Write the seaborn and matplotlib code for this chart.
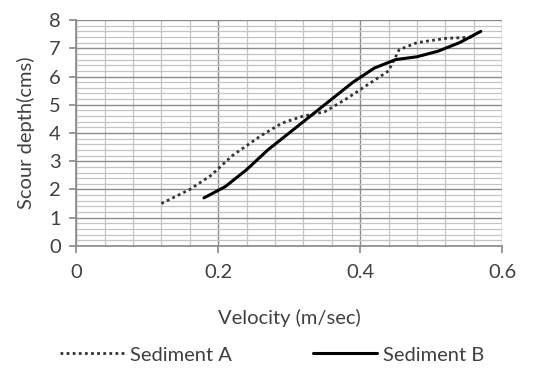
import matplotlib
matplotlib.use("Agg")
import matplotlib.pyplot as plt
import seaborn as sns
import pandas as pd
from matplotlib.ticker import MultipleLocator

sns.set_theme(style="white")
plt.rcParams['font.family'] = ['Lato', 'DejaVu Sans']

vel_a = [0.12, 0.16, 0.19, 0.22, 0.26, 0.29, 0.32, 0.35, 0.38, 0.41, 0.44, 0.455, 0.48, 0.52, 0.56]
depth_a = [1.5, 2.0, 2.5, 3.2, 3.9, 4.35, 4.6, 4.75, 5.2, 5.7, 6.2, 6.95, 7.2, 7.35, 7.4]
vel_b = [0.18, 0.21, 0.24, 0.27, 0.30, 0.33, 0.36, 0.39, 0.42, 0.45, 0.48, 0.51, 0.54, 0.57]
depth_b = [1.7, 2.1, 2.7, 3.4, 4.0, 4.6, 5.2, 5.8, 6.3, 6.6, 6.7, 6.9, 7.2, 7.6]

df_a = pd.DataFrame({"Velocity": vel_a, "Depth": depth_a})
df_b = pd.DataFrame({"Velocity": vel_b, "Depth": depth_b})

fig = plt.figure(figsize=(5.33, 3.72), dpi=100)
ax = fig.add_axes([0.143, 0.339, 0.799, 0.607])

sns.lineplot(data=df_a, x="Velocity", y="Depth", ax=ax, color="#333333",
             linestyle=(0, (1, 1.2)), linewidth=2, label="Sediment A", sort=False)
sns.lineplot(data=df_b, x="Velocity", y="Depth", ax=ax, color="black",
             linewidth=2.2, label="Sediment B", sort=False)

fs = 14.5
ax.set_xlim(0, 0.6)
ax.set_ylim(0, 8)
ax.xaxis.set_major_locator(MultipleLocator(0.2))
ax.xaxis.set_minor_locator(MultipleLocator(0.04))
ax.yaxis.set_major_locator(MultipleLocator(1))
ax.yaxis.set_minor_locator(MultipleLocator(0.2))
ax.grid(which="major", color="#8c8c8c", linewidth=1.0)
ax.grid(which="minor", color="#c4c4c4", linewidth=0.9)
ax.set_axisbelow(True)
for s in ax.spines.values():
    s.set_visible(False)
ax.spines['left'].set_visible(True)
ax.spines['left'].set_color("#8c8c8c")
ax.spines['bottom'].set_visible(True)
ax.spines['bottom'].set_color("#8c8c8c")
ax.tick_params(axis="both", which="major", length=5, color="#8c8c8c",
               labelsize=fs, labelcolor="#404040", direction="out")
ax.tick_params(axis="x", which="major", pad=8)
ax.tick_params(axis="y", which="major", pad=6)
ax.tick_params(axis="both", which="minor", length=0)
ax.tick_params(left=True, bottom=True)
ax.set_xticks([0, 0.2, 0.4, 0.6])
ax.set_xticklabels(["0", "0.2", "0.4", "0.6"])
ax.set_xlabel("Velocity (m/sec)", fontsize=fs, color="#404040", labelpad=20)
ax.set_ylabel("Scour depth(cms)", fontsize=fs, color="#404040", labelpad=10)

leg = ax.legend(loc="upper center", bbox_to_anchor=(0.46, -0.365), ncol=2,
                frameon=False, fontsize=fs, handlelength=3.2, columnspacing=4,
                handletextpad=0.3)
for t in leg.get_texts():
    t.set_color("#404040")

fig.savefig("out.png", dpi=100)
